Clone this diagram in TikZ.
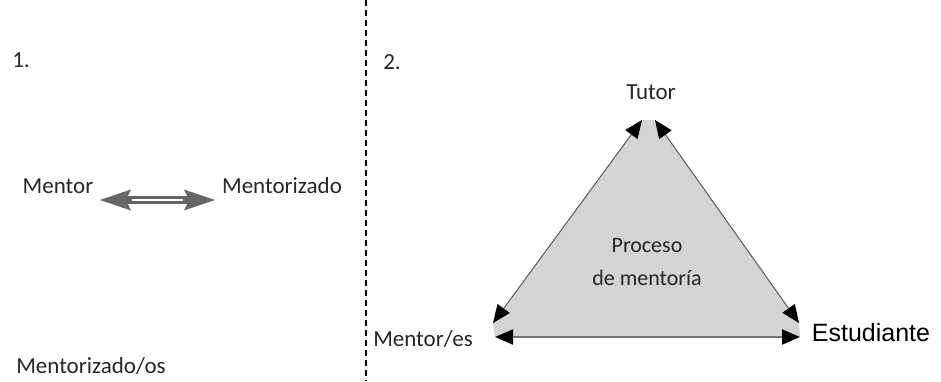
\documentclass[tikz,border=0pt]{standalone}
\usepackage{fontspec}
\setmainfont{Carlito}
\newfontfamily\arialfont{Liberation Sans}
\usetikzlibrary{arrows.meta}
\tikzset{
	etiqueta/.style={inner sep=0pt, text=black!85, font=\fontsize{23}{26}\selectfont},
	lado/.style={line width=1pt, color=black!65, {Triangle[length=18pt, width=15pt, color=black]}-{Triangle[length=18pt, width=15pt, color=black]}},
	doble/.style={line width=8pt, color=black!60, {Stealth[length=31pt, width=21pt, inset=5pt, line width=0pt]}-{Stealth[length=31pt, width=21pt, inset=5pt, line width=0pt]}},
}

\begin{document}
\begin{tikzpicture}[x=1pt, y=-1pt]
		%%%%% START %%%%%
		\useasboundingbox (0, 0) rectangle (941, 381);
		
		\draw[line width=1.5pt, dash pattern=on 6pt off 4pt] (366, 0) -- (366, 381);
		
		\node[etiqueta] (uno) at (21, 60) {1.};
		\node[etiqueta] (dos) at (392, 62) {2.};
		
		% 1.
		\node[etiqueta] (mentor) at (58, 186) {Mentor};
		\node[etiqueta] (mentorizado) at (282, 186) {Mentorizado};
		\node[etiqueta] (mentorizados) at (91, 366) {Mentorizado/os};
		\coordinate (d1) at (100, 200);
		\coordinate (d2) at (215, 200);
		\draw[doble] (d1) -- (d2);
		\draw[line width=2.5pt, color=white, shorten <=32pt, shorten >=32pt] (d1) -- (d2);
		
		% 2.
		\coordinate (tl) at (642, 120);
		\coordinate (tr) at (655, 120);
		\coordinate (lt) at (493, 323);
		\coordinate (lb) at (495, 337);
		\coordinate (rt) at (799, 323);
		\coordinate (rb) at (800, 337);
		\fill[color=black!17] (tl) -- (tr) -- (rt) -- (rb) -- (lb) -- (lt) -- cycle;
		
		\node[etiqueta] (tutor) at (651, 92) {Tutor};
		\node[etiqueta] (mentores) at (423, 339) {Mentor/es};
		\node[inner sep=0pt, font=\arialfont\fontsize{25}{28}\selectfont] (estudiante) at (871, 333) {Estudiante};
		\node[etiqueta, align=center, font=\fontsize{22}{33}\selectfont] (proceso) at (647, 262) {Proceso\\de mentoría};
		
		\draw[lado] (lt) -- (tl);
		\draw[lado] (tr) -- (rt);
		\draw[lado, line width=2pt, color=black!55] (lb) -- (rb);
		
		%%%%% END %%%%%
\end{tikzpicture}
\end{document}
